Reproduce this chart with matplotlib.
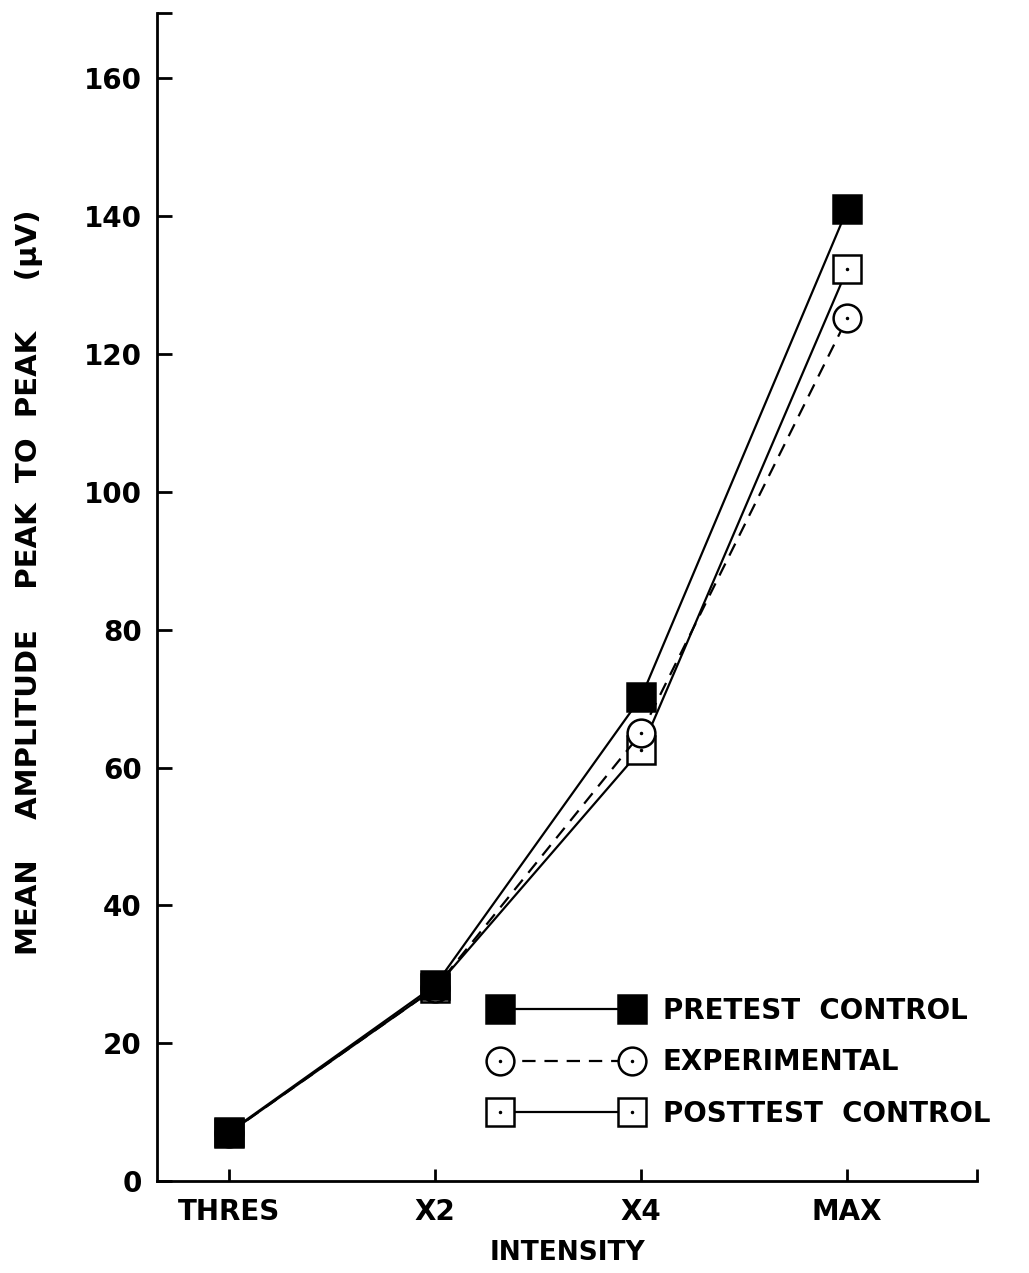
import matplotlib
matplotlib.use("Agg")
import matplotlib.pyplot as plt
from matplotlib.legend_handler import HandlerTuple

categories = ["THRES", "X2", "X4", "MAX"]
pretest = [7.1, 28.4, 70.2, 141.0]
experimental = [7.0, 28.0, 65.0, 125.2]
posttest = [7.0, 28.0, 62.6, 132.3]
yticks = [0, 20, 40, 60, 80, 100, 120, 140, 160]

plt.rcParams['font.family'] = ['DejaVu Sans']
fig = plt.figure(figsize=(10.29, 12.73), dpi=100)
ax = fig.add_axes([157/1029, 92/1273, 820/1029, 1168/1273])

x = list(range(len(categories)))
lw = 1.6
ms = 20

l3, = ax.plot(x, posttest, color='black', lw=lw, marker='s', ms=ms, mfc='white',
              mec='black', mew=1.8, zorder=3)
d3, = ax.plot(x, posttest, ls='none', marker='.', ms=3, color='black', zorder=4)
l2, = ax.plot(x, experimental, color='black', lw=lw, ls=(0, (6, 4)), marker='o', ms=ms,
              mfc='white', mec='black', mew=1.8, zorder=5)
d2, = ax.plot(x, experimental, ls='none', marker='.', ms=3, color='black', zorder=6)
l1, = ax.plot(x, pretest, color='black', lw=lw, marker='s', ms=ms, mfc='black',
              mec='black', mew=1.8, zorder=7)

ax.set_xlim(-0.35, 3.63)
ax.set_ylim(0, 169.5)
ax.set_xticks(x)
ax.set_xticklabels(categories)
ax.set_yticks(yticks)
ax.set_yticklabels([str(v) for v in yticks])
ax.set_xticks([3.63], minor=True)
ax.set_yticks([169.5], minor=True)

for s in ('top', 'right'):
    ax.spines[s].set_visible(False)
for s in ('left', 'bottom'):
    ax.spines[s].set_linewidth(2.0)
ax.tick_params(axis='both', which='both', direction='in', width=2.0, color='black')
ax.tick_params(axis='y', which='both', length=11, pad=11, labelsize=20)
ax.tick_params(axis='x', which='both', length=9, pad=12, labelsize=20)
for lab in ax.get_xticklabels() + ax.get_yticklabels():
    lab.set_fontweight('bold')

ax.set_xlabel("INTENSITY", fontsize=19, fontweight='bold')
ax.xaxis.set_label_coords(0.5, (1181 - 1240) / 1168)
ax.set_ylabel("MEAN    AMPLITUDE    PEAK  TO  PEAK     (\u00b5V)", fontsize=21,
              fontweight='bold')
ax.yaxis.label.set_va('center')
ax.yaxis.set_label_coords((29 - 157) / 820, (1181 - 582) / 1168)

leg = ax.legend([l1, (l2, d2), (l3, d3)],
                ["PRETEST  CONTROL", "EXPERIMENTAL", "POSTTEST  CONTROL"],
                handler_map={tuple: HandlerTuple(ndivide=1)},
                numpoints=2, handlelength=5.35, handletextpad=0.79, labelspacing=0.84,
                frameon=False, fontsize=20, loc='upper left',
                bbox_to_anchor=(492/1029, 1-997/1273), bbox_transform=fig.transFigure,
                borderaxespad=0, borderpad=0)
for t in leg.get_texts():
    t.set_fontweight('bold')

fig.savefig("out.png", dpi=100, facecolor='white')
